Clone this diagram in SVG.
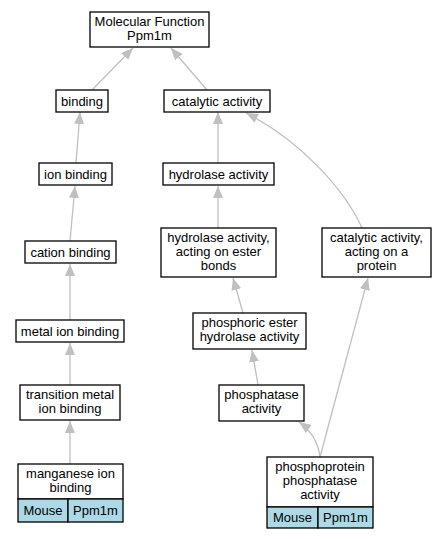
<svg xmlns="http://www.w3.org/2000/svg" width="445" height="539" viewBox="0 0 445 539">
<defs>
<style>
.box{fill:#fff;stroke:#000;stroke-width:1.3}
.cell{fill:#add8e6;stroke:#000;stroke-width:1.3}
text{font-family:"Liberation Sans",Arial,sans-serif;font-size:13px;fill:#000;text-anchor:middle}
.e{fill:none;stroke:#c0c0c0;stroke-width:1.3;marker-end:url(#ah)}
</style>
<marker id="ah" markerUnits="userSpaceOnUse" viewBox="0 0 12 10" refX="12" refY="5" markerWidth="12" markerHeight="10" orient="auto">
<path d="M0,0 L12,5 L0,10 z" fill="#c0c0c0"/>
</marker>
</defs>
<rect width="445" height="539" fill="#fff"/>
<g id="edges">
<path class="e" d="M92,90 L133,48"/>
<path class="e" d="M207,90 L171,48"/>
<path class="e" d="M76,163 L80,112"/>
<path class="e" d="M70,241 L75,186"/>
<path class="e" d="M70,320 L70,264"/>
<path class="e" d="M70,385 L70,343"/>
<path class="e" d="M70,464 L70,421"/>
<path class="e" d="M218,163 L218,112"/>
<path class="e" d="M218,228 L218,186"/>
<path class="e" d="M362,228 C345,190 300,140 246,113"/>
<path class="e" d="M243,313 L233,278"/>
<path class="e" d="M258,385 L252,350"/>
<path class="e" d="M320,457 C318,440 310,430 299,422"/>
<path class="e" d="M320,457 L368,278"/>
</g>
<g id="mf"><rect class="box" x="90" y="12" width="119" height="35"/><text x="149.5" y="26">Molecular Function</text><text x="149.5" y="40">Ppm1m</text></g>
<g id="binding"><rect class="box" x="56" y="90" width="52" height="22"/><text x="82" y="105.5">binding</text></g>
<g id="catalytic"><rect class="box" x="164" y="90" width="106" height="22"/><text x="217" y="105.5">catalytic activity</text></g>
<g id="ionbinding"><rect class="box" x="39" y="163" width="73" height="22"/><text x="75.5" y="178.5">ion binding</text></g>
<g id="cation"><rect class="box" x="25" y="241" width="91" height="22"/><text x="70.5" y="256.5">cation binding</text></g>
<g id="metal"><rect class="box" x="16" y="320" width="108" height="22"/><text x="70" y="335.5">metal ion binding</text></g>
<g id="transition"><rect class="box" x="20" y="385" width="100" height="35"/><text x="70" y="399">transition metal</text><text x="70" y="413">ion binding</text></g>
<g id="manganese"><rect class="box" x="18" y="464" width="105" height="35"/><text x="70.5" y="478">manganese ion</text><text x="70.5" y="492">binding</text>
<rect class="cell" x="18" y="499" width="50" height="23"/><rect class="cell" x="68" y="499" width="55" height="23"/><text x="43" y="515">Mouse</text><text x="95.5" y="515">Ppm1m</text></g>
<g id="hydrolase"><rect class="box" x="163" y="163" width="111" height="22"/><text x="218.5" y="178.5">hydrolase activity</text></g>
<g id="ester"><rect class="box" x="161" y="228" width="115" height="49"/><text x="218.5" y="242">hydrolase activity,</text><text x="218.5" y="256">acting on ester</text><text x="218.5" y="270">bonds</text></g>
<g id="catprotein"><rect class="box" x="322" y="228" width="109" height="49"/><text x="376.5" y="242">catalytic activity,</text><text x="376.5" y="256">acting on a</text><text x="376.5" y="270">protein</text></g>
<g id="phosphoric"><rect class="box" x="193" y="313" width="113" height="36"/><text x="249.5" y="327">phosphoric ester</text><text x="249.5" y="341">hydrolase activity</text></g>
<g id="phosphatase"><rect class="box" x="219" y="385" width="85" height="36"/><text x="261.5" y="399">phosphatase</text><text x="261.5" y="413">activity</text></g>
<g id="phosphoprotein"><rect class="box" x="267" y="457" width="106" height="50"/><text x="320" y="471">phosphoprotein</text><text x="320" y="485">phosphatase</text><text x="320" y="499">activity</text>
<rect class="cell" x="267" y="507" width="51" height="21"/><rect class="cell" x="318" y="507" width="55" height="21"/><text x="292.5" y="522">Mouse</text><text x="345.5" y="522">Ppm1m</text></g>
</svg>
